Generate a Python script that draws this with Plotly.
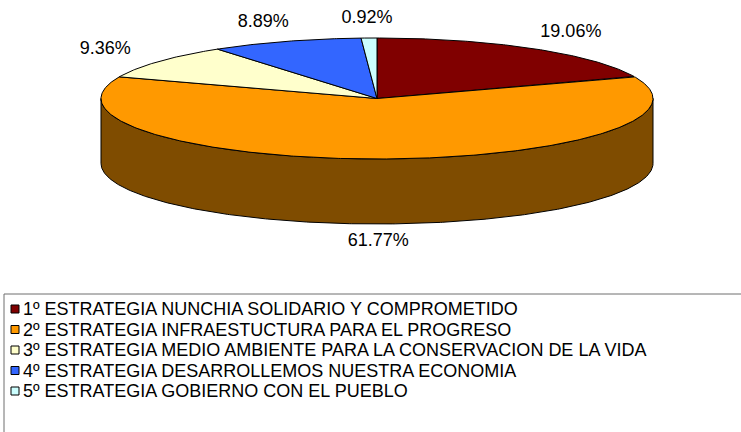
import numpy as np
import plotly.graph_objects as go

# ---- data ----
categories = [
    "1º ESTRATEGIA NUNCHIA SOLIDARIO Y COMPROMETIDO",
    "2º ESTRATEGIA INFRAESTUCTURA PARA EL PROGRESO",
    "3º ESTRATEGIA MEDIO AMBIENTE PARA LA CONSERVACION DE LA VIDA",
    "4º ESTRATEGIA DESARROLLEMOS NUESTRA ECONOMIA",
    "5º ESTRATEGIA GOBIERNO CON EL PUEBLO",
]
values = [19.06, 61.77, 9.36, 8.89, 0.92]
colors = ["#800000", "#FF9900", "#FFFFCC", "#3366FF", "#CCFFFF"]

# ---- layout / geometry parameters (pixels) ----
W, H = 741, 432
CX, CY = 377, 98.5
RX, RY = 276, 60.5
DEPTH = 65
GX, GY = 68, 20
FONT = "Liberation Sans, Arial, sans-serif"


def darker(hex_color, f=0.5):
    h = hex_color.lstrip("#")
    r, g, b = (int(h[i:i + 2], 16) for i in (0, 2, 4))
    return "rgb(%d,%d,%d)" % (r * f, g * f, b * f)


def pt(theta_deg, dy=0.0):
    t = np.radians(theta_deg)
    return CX + RX * np.sin(t), CY - RY * np.cos(t) + dy


total = float(sum(values))
bounds = np.concatenate([[0.0], np.cumsum(values) / total * 360.0])

fig = go.Figure()

# side walls (visible front half: 90..270 deg)
for i, v in enumerate(values):
    s0, s1 = max(bounds[i], 90.0), min(bounds[i + 1], 270.0)
    if s0 >= s1:
        continue
    th = np.linspace(s0, s1, max(int((s1 - s0) * 2), 4))
    xt, yt = pt(th)
    xb, yb = pt(th[::-1], DEPTH)
    xs = np.concatenate([xt, xb, xt[:1]])
    ys = np.concatenate([yt, yb, yt[:1]])
    fig.add_trace(go.Scatter(x=xs, y=ys, mode="lines", fill="toself",
                             fillcolor=darker(colors[i]),
                             line=dict(color="black", width=1),
                             hoverinfo="skip", showlegend=False))

# top faces
for i, v in enumerate(values):
    t0, t1 = bounds[i], bounds[i + 1]
    th = np.linspace(t0, t1, max(int((t1 - t0) * 2), 4))
    xa, ya = pt(th)
    xs = np.concatenate([[CX], xa, [CX]])
    ys = np.concatenate([[CY], ya, [CY]])
    fig.add_trace(go.Scatter(x=xs, y=ys, mode="lines", fill="toself",
                             fillcolor=colors[i],
                             line=dict(color="black", width=1),
                             name=categories[i],
                             hoverinfo="name", showlegend=False))

# data labels
mids = (bounds[:-1] + bounds[1:]) / 2
mr = np.radians(mids)
lx = CX + (RX + GX) * np.sin(mr)
ly = CY - (RY + GY) * np.cos(mr) + (DEPTH - 3) * np.clip(-np.cos(mr), 0, None)
fig.add_trace(go.Scatter(x=lx, y=ly, mode="text",
                         text=["%.2f%%" % v for v in values],
                         textfont=dict(family=FONT, size=18, color="black"),
                         hoverinfo="skip", showlegend=False))

# legend (manual, Excel style)
LEG_X, LEG_Y, LEG_STEP = 4, 294, 20.5
rows = LEG_Y + 15 + LEG_STEP * np.arange(len(categories))
fig.add_shape(type="rect", x0=LEG_X, y0=LEG_Y, x1=W + 20, y1=H + 20,
              xref="x", yref="y", line=dict(color="#6e6e6e", width=1),
              fillcolor="rgba(0,0,0,0)")
fig.add_trace(go.Scatter(x=[LEG_X + 11] * len(categories), y=rows,
                         mode="markers",
                         marker=dict(symbol="square", size=8, color=colors,
                                     line=dict(color="black", width=1)),
                         hoverinfo="skip", showlegend=False))
for i, c in enumerate(categories):
    fig.add_annotation(x=LEG_X + 17, y=rows[i], text=c, showarrow=False,
                       xref="x", yref="y", xanchor="left", yanchor="middle",
                       font=dict(family=FONT, size=18, color="black"))

fig.update_layout(
    width=W, height=H, autosize=False,
    margin=dict(l=0, r=0, t=0, b=0),
    paper_bgcolor="white", plot_bgcolor="white",
    xaxis=dict(range=[0, W], visible=False, fixedrange=True),
    yaxis=dict(range=[H, 0], visible=False, fixedrange=True),
    showlegend=False,
)

fig.write_html("out.html", config={"displayModeBar": False},
               post_script="document.body.style.margin='0px';"
                           "document.body.style.overflow='hidden';")
